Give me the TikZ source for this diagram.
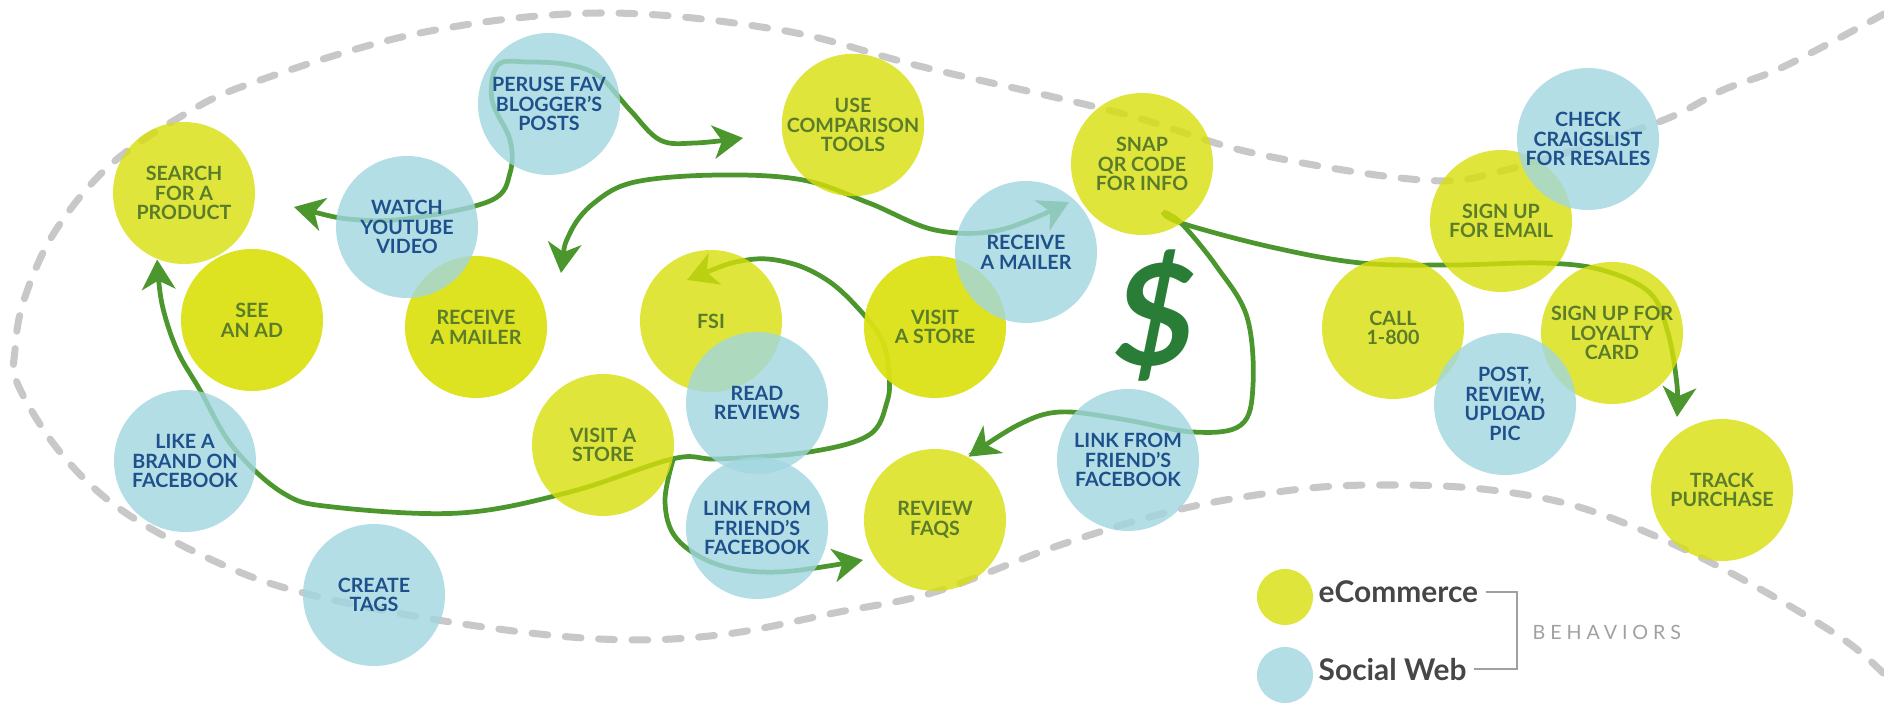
\documentclass[tikz,border=0pt]{standalone}
\usepackage{fontspec}
\setmainfont{Lato}
\usetikzlibrary{arrows.meta}
\definecolor{ecomfill}{RGB}{216,223,11}
\definecolor{ecomdeep}{RGB}{219,226,20}
\definecolor{socialfill}{RGB}{161,214,224}
\definecolor{ecomtext}{RGB}{91,125,42}
\definecolor{socialtext}{RGB}{30,80,140}
\definecolor{flowgreen}{RGB}{75,150,45}
\definecolor{cashgreen}{RGB}{42,125,55}
\definecolor{dashgray}{RGB}{200,200,200}
\definecolor{keytext}{RGB}{70,70,70}
\definecolor{bracketgray}{RGB}{160,160,160}
\pgfdeclarelayer{bg}
\pgfsetlayers{bg,main}
\tikzset{
  bubble/.style={circle, minimum size=1.42cm, inner sep=0pt, align=center,
    fill opacity=0.8, text opacity=1, font=\fontsize{5.6}{5.6}\selectfont\bfseries},
  ecom/.style={bubble, fill=ecomfill, text=ecomtext},
  ecomdark/.style={bubble, fill=ecomdeep, fill opacity=0.95, text=ecomtext},
  social/.style={bubble, fill=socialfill, text=socialtext},
  flow/.style={draw=flowgreen, line width=1.35pt, -{Stealth[length=8.5pt,width=9.5pt,inset=2.5pt]}},
  twoway/.style={flow, {Stealth[length=8.5pt,width=9.5pt,inset=2.5pt]}-{Stealth[length=8.5pt,width=9.5pt,inset=2.5pt]}},
  border/.style={draw=dashgray, line width=2pt, line cap=round, dash pattern=on 4.5pt off 5pt},
  keylabel/.style={inner sep=0pt, text=keytext, font=\fontsize{8.5}{8.5}\selectfont\bfseries},
  bracket/.style={draw=bracketgray, line width=0.6pt}
}
\begin{document}
\begin{tikzpicture}
\useasboundingbox (0,0) rectangle (18.84,7.04);
% ecommerce behaviours
\node[ecom] (search) at (1.84,5.11) {SEARCH\\FOR A\\PRODUCT};
\node[ecomdark] (seead) at (2.52,3.84) {SEE\\AN AD};
\node[ecomdark] (mailera) at (4.76,3.77) {RECEIVE\\A MAILER};
\node[ecom] (compare) at (8.53,5.79) {USE\\COMPARISON\\TOOLS};
\node[ecom] (fsi) at (7.11,3.83) {FSI};
\node[ecomdark] (storea) at (9.35,3.77) {VISIT\\A STORE};
\node[ecom] (storeb) at (6.03,2.59) {VISIT A\\STORE};
\node[ecom] (snap) at (11.42,5.40) {SNAP\\QR CODE\\FOR INFO};
\node[ecom] (faqs) at (9.35,1.84) {REVIEW\\FAQS};
\node[ecom] (call) at (13.93,3.76) {CALL\\1-800};
\node[ecom] (email) at (15.01,4.83) {SIGN UP\\FOR EMAIL};
\node[ecom] (loyalty) at (16.12,3.71) {SIGN UP FOR\\LOYALTY\\CARD};
\node[ecom] (track) at (17.22,2.14) {TRACK\\PURCHASE};
% social web behaviours
\node[social] (peruse) at (5.49,6.00) {PERUSE FAV\\BLOGGER'S\\POSTS};
\node[social] (youtube) at (4.07,4.77) {WATCH\\YOUTUBE\\VIDEO};
\node[social] (likefb) at (1.85,2.43) {LIKE A\\BRAND ON\\FACEBOOK};
\node[social] (tags) at (3.74,1.09) {CREATE\\TAGS};
\node[social] (reviews) at (7.57,3.01) {READ\\REVIEWS};
\node[social] (frienda) at (7.57,1.76) {LINK FROM\\FRIEND'S\\FACEBOOK};
\node[social] (mailerb) at (10.26,4.52) {RECEIVE\\A MAILER};
\node[social] (friendb) at (11.28,2.44) {LINK FROM\\FRIEND'S\\FACEBOOK};
\node[social] (craigs) at (15.88,5.65) {CHECK\\CRAIGSLIST\\FOR RESALES};
\node[social] (post) at (15.05,3.00) {POST,\\REVIEW,\\UPLOAD\\PIC};
\node[text=cashgreen, font=\fontsize{40}{40}\selectfont\bfseries\itshape] (cash) at (11.55,3.88) {\$};
% legend
\node[ecom, minimum size=0.56cm] (keyecom) at (12.85,1.07) {};
\node[social, minimum size=0.56cm] (keysocial) at (12.85,0.29) {};
\node[keylabel, anchor=base west] (ecomlabel) at (13.18,1.01) {eCommerce};
\node[keylabel, anchor=base west] (sociallabel) at (13.18,0.24) {Social Web};
\node[anchor=west, inner sep=0pt, text=bracketgray, font=\fontsize{5.6}{5.6}\selectfont\addfontfeatures{LetterSpace=25}] (behave) at (15.32,0.72) {BEHAVIORS};
\draw[bracket] ([xshift=2pt]ecomlabel.east) -| ([xshift=-0.15cm]behave.west) |- ([xshift=2pt]sociallabel.east);
% free ends of the connectors
\coordinate (bloga) at (2.94,4.97);
\coordinate (blogb) at (7.43,5.66);
\coordinate (maila) at (5.61,4.31);
\coordinate (mailb) at (10.69,5.02);
\coordinate (fsitip) at (6.87,4.24);
\coordinate (storehub) at (storeb.-11);
\coordinate (faqtip) at (8.63,1.44);
\coordinate (qrstart) at (11.63,4.92);
\coordinate (tracktip) at (16.77,2.87);
\begin{pgfonlayer}{bg}
\draw[border] plot[smooth, tension=0.6] coordinates {(18.84,6.90) (17.83,6.37) (17.23,6.14) (16.56,5.81) (15.06,5.34) (14.22,5.24) (12.53,5.51) (11.20,5.91) (9.23,6.37) (7.80,6.74) (6.00,6.91) (4.20,6.71) (2.52,6.21) (1.80,5.87) (1.08,5.37) (0.54,4.71) (0.24,4.04) (0.15,3.54) (0.18,3.19) (0.60,2.52) (1.20,1.95) (2.10,1.45) (3.00,1.12) (4.50,0.82) (6.00,0.65) (7.19,0.69) (8.39,0.92) (9.35,1.12) (10.60,1.59) (11.81,1.95) (13.01,2.15) (13.91,2.19) (14.82,2.15) (15.72,1.99) (16.62,1.65) (17.53,1.19) (18.43,0.65) (18.84,0.30)};
\draw[twoway] plot[smooth, tension=0.6] coordinates {(bloga) (3.60,4.84) (4.20,4.87) (4.92,5.04) (5.10,5.31) (5.10,5.64) (4.92,6.04) (4.98,6.39) (5.28,6.42) (5.70,6.39) (6.00,6.27) (6.30,5.94) (6.60,5.64) (6.95,5.61) (blogb)};
\draw[twoway] plot[smooth, tension=0.6] coordinates {(maila) (5.70,4.71) (5.94,5.01) (6.35,5.22) (7.19,5.29) (8.03,5.24) (8.69,5.01) (9.35,4.74) (10.00,4.74) (mailb)};
\draw[twoway] plot[smooth, tension=0.6] coordinates {(fsitip) (7.47,4.44) (7.90,4.41) (8.27,4.24) (8.57,3.97) (8.82,3.64) (8.89,3.30) (8.87,3.02) (8.69,2.69) (8.09,2.52) (7.19,2.45) (storehub) (5.70,2.12) (4.60,1.91) (3.33,1.97) (2.83,2.11) (2.33,2.57) (2.00,3.14) (1.77,3.54) (1.62,4.00) (search.-112)};
\draw[flow] plot[smooth, tension=0.6] coordinates {(storehub) (6.65,2.02) (6.77,1.65) (7.19,1.39) (7.79,1.32) (faqtip)};
\draw[flow] plot[smooth, tension=0.6] coordinates {(qrstart) (11.81,4.81) (12.71,4.57) (13.61,4.41) (14.52,4.39) (15.42,4.41) (16.02,4.34) (16.50,4.11) (16.68,3.71) (16.77,3.19) (tracktip)};
\draw[flow] plot[smooth, tension=0.6] coordinates {(qrstart) (11.81,4.81) (12.17,4.37) (12.47,3.87) (12.53,3.19) (12.41,2.79) (11.93,2.72) (11.21,2.85) (10.60,2.92) (10.18,2.79) (faqs.62)};
\end{pgfonlayer}
\end{tikzpicture}
\end{document}
